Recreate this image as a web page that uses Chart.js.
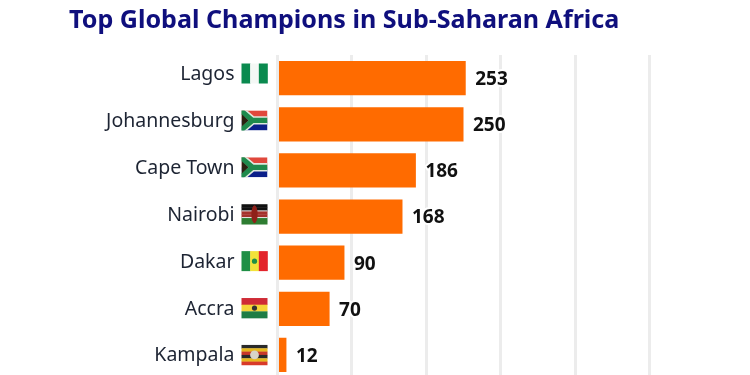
<!DOCTYPE html>
<html><head><meta charset="utf-8">
<style>html,body{margin:0;padding:0;background:#fff;overflow:hidden;height:375px}canvas{display:block}</style>
<script src="https://cdn.jsdelivr.net/npm/chart.js@4"></script></head>
<body><canvas id="c" width="750" height="378"></canvas>
<script>
const cities = ["Lagos","Johannesburg","Cape Town","Nairobi","Dakar","Accra","Kampala"];
const champions = [253,250,186,168,90,70,12];
const flagCodes = ["ng","za","za","ke","sn","gh","ug"];
const chartTitle = "Top Global Champions in Sub-Saharan Africa";
const FONT = "'Noto Sans', sans-serif";
const stripes = {
  ng:{dir:"v",c:["#0a8a4f","#f4f8f5","#0a8a4f"]},
  ke:{dir:"h",c:["#111111","#111111","#a5322c","#a5322c","#2e7d32","#2e7d32"]},
  sn:{dir:"v",c:["#1f8f45","#f2e33a","#e3242b"]},
  gh:{dir:"h",c:["#cf2b36","#f5d53a","#1e7d45"]},
  ug:{dir:"h",c:["#2a2a2a","#e6b81e","#c8382a","#2a2a2a","#e6b81e","#d83a2a"]}
};
function drawFlag(g,code,x,y,w,h){
  g.save();
  g.filter="blur(0.6px)";
  if(code==="za"){
    g.beginPath();g.rect(x,y,w,h);g.clip();
    g.fillStyle="#e0483c";g.fillRect(x,y,w,h/2);
    g.fillStyle="#0b1f8a";g.fillRect(x,y+h/2,w,h/2);
    g.strokeStyle="#dfe8de";g.lineWidth=h*0.42;
    g.beginPath();g.moveTo(x-2,y-1);g.lineTo(x+w*0.42,y+h/2);g.lineTo(x-2,y+h+1);g.moveTo(x+w*0.42,y+h/2);g.lineTo(x+w,y+h/2);g.stroke();
    g.strokeStyle="#1f8a4c";g.lineWidth=h*0.26;
    g.beginPath();g.moveTo(x-2,y-1);g.lineTo(x+w*0.42,y+h/2);g.lineTo(x-2,y+h+1);g.moveTo(x+w*0.42,y+h/2);g.lineTo(x+w,y+h/2);g.stroke();
    g.fillStyle="#2a2210";g.beginPath();g.moveTo(x,y+h*0.18);g.lineTo(x+w*0.27,y+h/2);g.lineTo(x,y+h*0.82);g.fill();
  } else {
    const s=stripes[code],n=s.c.length;
    s.c.forEach((col,i)=>{g.fillStyle=col;
      if(s.dir==="v")g.fillRect(x+i*w/n,y,w/n+0.3,h);
      else g.fillRect(x,y+i*h/n,w,h/n+0.3);});
    if(code==="ke"){g.fillStyle="#e8e8e8";g.fillRect(x,y+h/3-0.5,w,1);g.fillRect(x,y+2*h/3-0.5,w,1);
      g.fillStyle="#8f2019";g.beginPath();g.ellipse(x+w/2,y+h/2,w*0.12,h*0.45,0,0,7);g.fill();}
    if(code==="ug"){g.fillStyle="#d8d4c8";g.beginPath();g.arc(x+w/2,y+h/2,h*0.22,0,7);g.fill();}
    if(code==="gh"){g.fillStyle="#333";g.beginPath();g.arc(x+w/2,y+h/2,h*0.13,0,7);g.fill();}
    if(code==="sn"){g.fillStyle="#1f8f45";g.beginPath();g.arc(x+w/2,y+h/2,h*0.13,0,7);g.fill();}
  }
  g.restore();
}
const decor = {
  id:"decor",
  afterDraw(ch){
    const g=ch.ctx,y=ch.scales.y,x=ch.scales.x,bars=ch.getDatasetMeta(0).data;
    const n=cities.length-1;
    g.save();
    g.textBaseline="middle";
    cities.forEach((name,i)=>{
      const py=y.getPixelForTick(i);
      const ly=py+(i-n)*0.78;
      g.textAlign="right";
      g.font="19.5px "+FONT;g.fillStyle="#1d2433";
      g.fillText(name,x.left-43,ly+1);
      drawFlag(g,flagCodes[i],x.left-36,ly-10,26,20);
      g.font="bold 19px "+FONT;g.textAlign="left";
      const vx=bars[i].x+9.5, vy=py+1.5;
      g.lineJoin="round";g.lineWidth=4;g.strokeStyle="#ffffff";
      g.strokeText(String(champions[i]),vx,vy);
      g.fillStyle="#111111";
      g.fillText(String(champions[i]),vx,vy);
    });
    g.restore();
  }
};
new Chart(document.getElementById("c"),{
  type:"bar",
  data:{labels:cities,datasets:[{data:champions,backgroundColor:"#ff6b00",barPercentage:0.745,categoryPercentage:1}]},
  options:{
    indexAxis:"y",responsive:false,animation:false,
    layout:{padding:{left:69,right:100.5,top:0,bottom:0}},
    plugins:{legend:{display:false},tooltip:{enabled:false},
      title:{display:true,text:chartTitle,align:"start",color:"#0f0f7d",font:{family:FONT,size:25.1,weight:"bold"},padding:{top:6,bottom:19}}},
    scales:{
      x:{position:"top",min:0,max:500,ticks:{display:false,stepSize:100},border:{display:false},
        grid:{color:"#ececec",lineWidth:3,drawTicks:false}},
      y:{ticks:{display:false},border:{display:false},grid:{display:false},
        afterFit(s){s.width=208.5;}}
    }
  },
  plugins:[decor]
});
</script></body></html>
